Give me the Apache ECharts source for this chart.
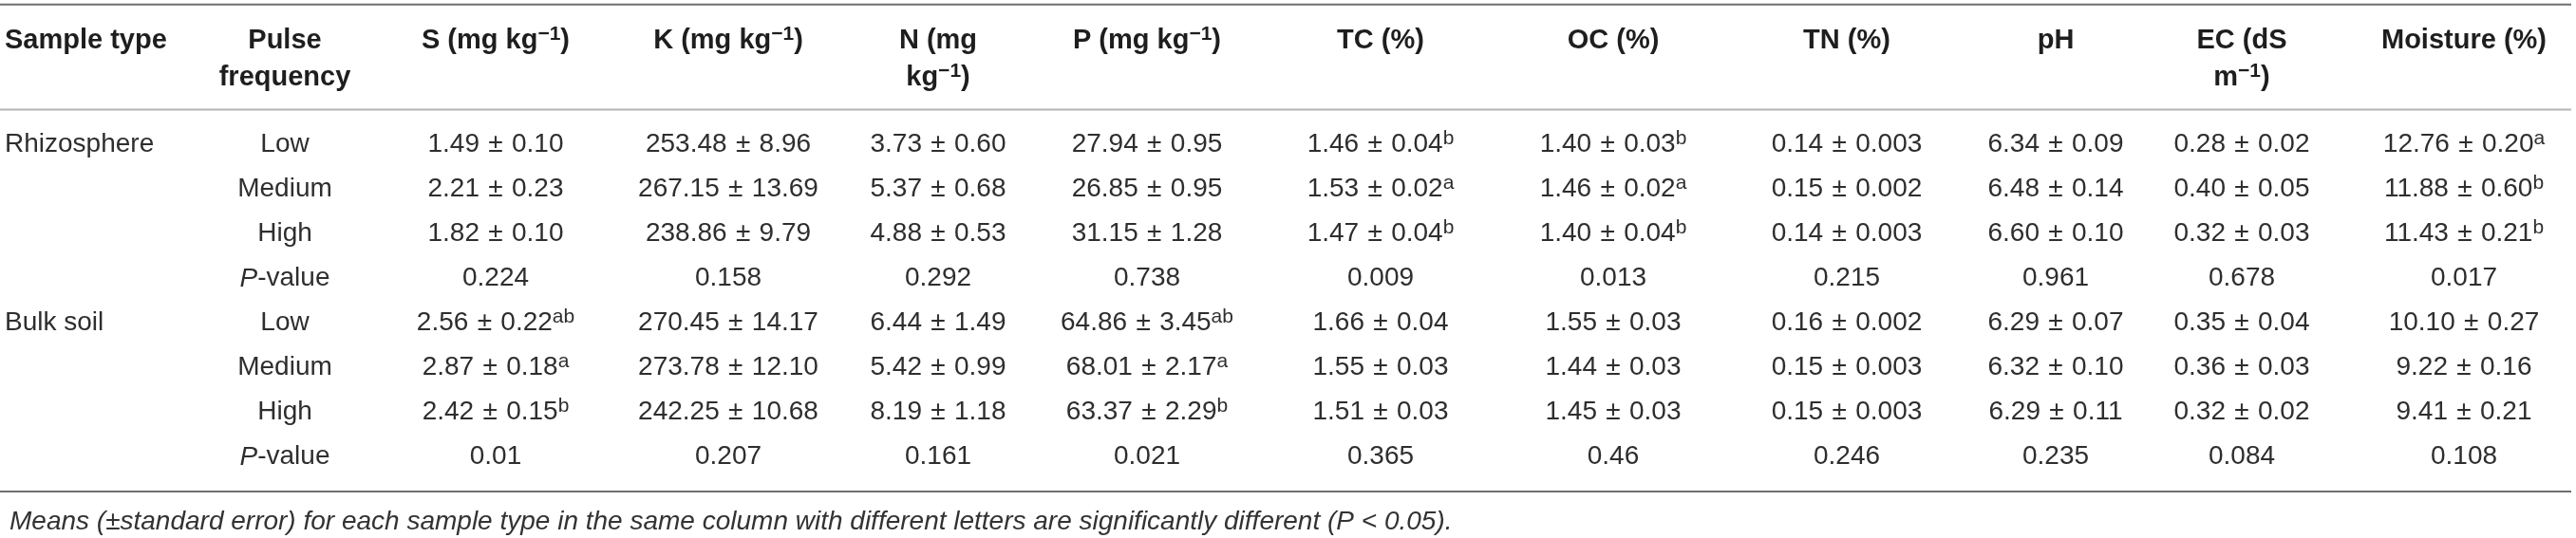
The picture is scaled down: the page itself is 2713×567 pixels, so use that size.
<!DOCTYPE html>
<html>
<head>
<meta charset="utf-8">
<script src="https://cdn.jsdelivr.net/npm/echarts@6/dist/echarts.min.js"></script>
<style>
  html, body { margin: 0; padding: 0; background: #fff; }
  #table { width: 2713px; height: 567px; }
</style>
</head>
<body>
<div id="table"></div>
<script>
// ---- table content ----
var headers = [
    ['Sample type'],
    ['Pulse', 'frequency'],
    ['S (mg kg{h|\u22121})'],
    ['K (mg kg{h|\u22121})'],
    ['N (mg', 'kg{h|\u22121})'],
    ['P (mg kg{h|\u22121})'],
    ['TC (%)'],
    ['OC (%)'],
    ['TN (%)'],
    ['pH'],
    ['EC (dS', 'm{h|\u22121})'],
    ['Moisture (%)']
];
var sampleTypes = ['Rhizosphere', 'Bulk soil'];
var pulseLevels = ['Low', 'Medium', 'High', '{i|P}-value'];

// each entry: [mean ± SE (or P-value), letter]
var S = [['1.49 ± 0.10'], ['2.21 ± 0.23'], ['1.82 ± 0.10'], ['0.224'],
         ['2.56 ± 0.22', 'ab'], ['2.87 ± 0.18', 'a'], ['2.42 ± 0.15', 'b'], ['0.01']];
var K = [['253.48 ± 8.96'], ['267.15 ± 13.69'], ['238.86 ± 9.79'], ['0.158'],
         ['270.45 ± 14.17'], ['273.78 ± 12.10'], ['242.25 ± 10.68'], ['0.207']];
var N = [['3.73 ± 0.60'], ['5.37 ± 0.68'], ['4.88 ± 0.53'], ['0.292'],
         ['6.44 ± 1.49'], ['5.42 ± 0.99'], ['8.19 ± 1.18'], ['0.161']];
var P = [['27.94 ± 0.95'], ['26.85 ± 0.95'], ['31.15 ± 1.28'], ['0.738'],
         ['64.86 ± 3.45', 'ab'], ['68.01 ± 2.17', 'a'], ['63.37 ± 2.29', 'b'], ['0.021']];
var TC = [['1.46 ± 0.04', 'b'], ['1.53 ± 0.02', 'a'], ['1.47 ± 0.04', 'b'], ['0.009'],
          ['1.66 ± 0.04'], ['1.55 ± 0.03'], ['1.51 ± 0.03'], ['0.365']];
var OC = [['1.40 ± 0.03', 'b'], ['1.46 ± 0.02', 'a'], ['1.40 ± 0.04', 'b'], ['0.013'],
          ['1.55 ± 0.03'], ['1.44 ± 0.03'], ['1.45 ± 0.03'], ['0.46']];
var TN = [['0.14 ± 0.003'], ['0.15 ± 0.002'], ['0.14 ± 0.003'], ['0.215'],
          ['0.16 ± 0.002'], ['0.15 ± 0.003'], ['0.15 ± 0.003'], ['0.246']];
var pH = [['6.34 ± 0.09'], ['6.48 ± 0.14'], ['6.60 ± 0.10'], ['0.961'],
          ['6.29 ± 0.07'], ['6.32 ± 0.10'], ['6.29 ± 0.11'], ['0.235']];
var EC = [['0.28 ± 0.02'], ['0.40 ± 0.05'], ['0.32 ± 0.03'], ['0.678'],
          ['0.35 ± 0.04'], ['0.36 ± 0.03'], ['0.32 ± 0.02'], ['0.084']];
var moisture = [['12.76 ± 0.20', 'a'], ['11.88 ± 0.60', 'b'], ['11.43 ± 0.21', 'b'], ['0.017'],
                ['10.10 ± 0.27'], ['9.22 ± 0.16'], ['9.41 ± 0.21'], ['0.108']];
var variables = [S, K, N, P, TC, OC, TN, pH, EC, moisture];
var footnote = 'Means (\u00b1standard error) for each sample type in the same column with different letters are significantly different (P < 0.05).';

// ---- layout / style ----
var colWidths = [215, 170, 274, 216, 226, 214, 278, 212, 280, 160, 232, 236];
var headerLines = [-2.34, -1.51];   // in row units
var rules = [
    { y: -3.15, color: '#6e6e6e', width: 2 },
    { y: -0.79, color: '#b4b4b4', width: 2 },
    { y: 7.77, color: '#6e6e6e', width: 2 }
];
var FONT = '"Liberation Sans", Arial, Helvetica, sans-serif';
var tableWidth = colWidths.reduce(function (a, b) { return a + b; }, 0);
var colLeft = [];
colWidths.reduce(function (acc, w, i) { colLeft[i] = acc; return acc + w; }, 0);

function colX(c) {
    return c === 0 ? colLeft[0] + 5 : colLeft[c] + colWidths[c] / 2;
}

// build cells
var cells = [];
headers.forEach(function (lines, c) {
    lines.forEach(function (t, k) {
        cells.push({ x: colX(c), y: headerLines[k], text: t, head: true, left: c === 0 });
    });
});
sampleTypes.forEach(function (t, g) {
    cells.push({ x: colX(0), y: g * 4, text: t, left: true });
});
sampleTypes.forEach(function (t, g) {
    pulseLevels.forEach(function (p, k) {
        cells.push({ x: colX(1), y: g * 4 + k, text: p });
    });
});
variables.forEach(function (arr, v) {
    arr.forEach(function (cell, r) {
        var txt = cell[0].replace(' \u00b1 ', '\u2004\u00b1\u2004') + (cell[1] ? '{s|' + cell[1] + '}' : '');
        cells.push({ x: colX(v + 2), y: r, text: txt });
    });
});

var bodyRich = {
    s: { fontFamily: FONT, fontSize: 21, fill: '#2e2e2e', verticalAlign: 'top', lineHeight: 20 },
    i: { fontFamily: FONT, fontSize: 28, fontStyle: 'italic', fill: '#2e2e2e', lineHeight: 34 }
};
var headRich = {
    h: { fontFamily: FONT, fontSize: 21, fontWeight: 'bold', fill: '#1e1e1e', verticalAlign: 'top', lineHeight: 18 }
};

var chart = echarts.init(document.getElementById('table'));
var option = {
    animation: false,
    title: {
        text: footnote,
        left: 5,
        top: 531,
        textStyle: { fontFamily: FONT, fontSize: 28, fontStyle: 'italic', fontWeight: 'normal', color: '#333' }
    },
    grid: { left: 0, right: 0, top: 0, bottom: 3 },
    xAxis: { type: 'value', min: 0, max: tableWidth, show: false },
    yAxis: { type: 'value', min: -3.25, max: 8.75, inverse: true, show: false },
    series: [
        {
            name: 'rules',
            type: 'custom',
            silent: true,
            data: rules.map(function (r) { return [0, r.y]; }),
            renderItem: function (params, api) {
                var r = rules[params.dataIndex];
                var a = api.coord([0, r.y]);
                var b = api.coord([tableWidth - 5, r.y]);
                return {
                    type: 'line',
                    shape: { x1: a[0], y1: a[1], x2: b[0], y2: b[1] },
                    style: { stroke: r.color, lineWidth: r.width }
                };
            }
        },
        {
            name: 'cells',
            type: 'custom',
            silent: true,
            data: cells.map(function (c) { return [c.x, c.y]; }),
            renderItem: function (params, api) {
                var c = cells[params.dataIndex];
                var p = api.coord([api.value(0), api.value(1)]);
                return {
                    type: 'text',
                    style: {
                        text: c.text,
                        x: p[0],
                        y: p[1],
                        align: c.left ? 'left' : 'center',
                        verticalAlign: 'middle',
                        fontFamily: FONT,
                        fontSize: c.head ? 29 : 28,
                        fontWeight: c.head ? 'bold' : 'normal',
                        lineHeight: 34,
                        fill: c.head ? '#1e1e1e' : '#2e2e2e',
                        rich: c.head ? headRich : bodyRich
                    }
                };
            }
        }
    ]
};
chart.setOption(option);
window.addEventListener('resize', function () {
    chart.resize();
});
</script>
</body>
</html>
